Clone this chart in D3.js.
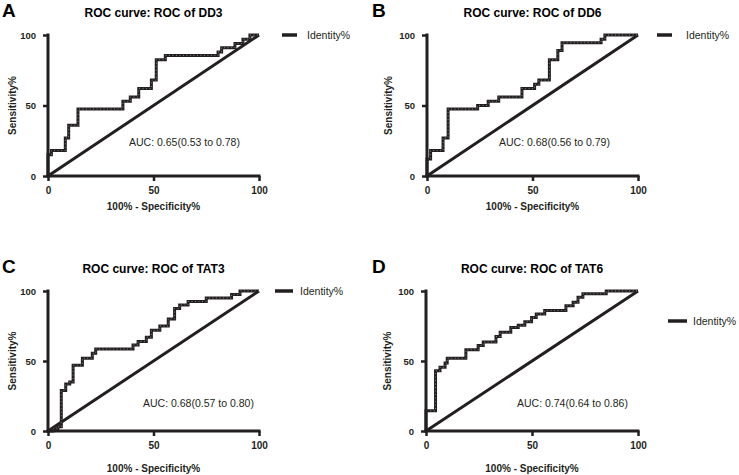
<!DOCTYPE html>
<html>
<head>
<meta charset="utf-8">
<script src="https://cdn.jsdelivr.net/npm/d3@7"></script>
<style>
  body { margin: 0; background: #fff; }
  svg { display: block; font-family: "Liberation Sans", Arial, sans-serif; }
</style>
</head>
<body>
<div id="chart"></div>
<script>
// ROC points (100% - specificity%, sensitivity%)
const dd3Fpr  = [0, 0, 1.6, 8.2, 9.8, 14.2, 35.5, 39, 43, 49, 51.3, 55.6, 80.6, 82.3, 88.6, 92.4, 95.7, 100];
const dd3Sens = [0, 15, 18, 27, 36, 47.5, 53, 56, 62, 68, 82.5, 85.5, 88, 91, 94, 97, 100, 100];

const dd6Fpr  = [0, 0, 1.7, 7.6, 10, 24, 29, 34, 45, 51, 53, 58, 62, 64, 82.5, 84.3, 100];
const dd6Sens = [0, 12, 18, 27, 47.5, 50, 53, 56, 62, 65, 68, 82.5, 89, 94.5, 97, 100, 100];

const tat3Fpr  = [0, 2.4, 4.7, 6.3, 8.4, 10.3, 11.9, 16.3, 21, 22.6, 40.3, 42.7, 46.6, 49, 53, 57, 60, 62.4, 66.4, 75, 87, 91, 100];
const tat3Sens = [0, 1.5, 3, 29, 33.5, 35, 47, 52, 55.5, 58.5, 61.5, 64, 67, 72, 75, 80, 87.5, 90, 92.5, 95, 97.5, 100, 100];

const tat6Fpr  = [0, 0, 4.5, 6.6, 9, 10, 18.8, 24.6, 27, 33, 35, 40, 43.5, 46.6, 49.8, 52, 56, 66, 69.4, 71.7, 74, 85, 100];
const tat6Sens = [0, 14.5, 43, 45.5, 48.5, 52, 58, 61, 63.5, 67.5, 70.5, 74, 75.5, 78, 81, 83.5, 86, 89.5, 92, 95.5, 98, 100, 100];

const panelLetters = ["A", "B", "C", "D"];
const panelTitles = ["ROC curve: ROC of DD3", "ROC curve: ROC of DD6", "ROC curve: ROC of TAT3", "ROC curve: ROC of TAT6"];
const aucLabels = ["AUC: 0.65(0.53 to 0.78)", "AUC: 0.68(0.56 to 0.79)", "AUC: 0.68(0.57 to 0.80)", "AUC: 0.74(0.64 to 0.86)"];
const tickValues = [0, 50, 100];
const legendLabel = "Identity%";

// layout of each panel (pixels)
const panels = [
  { fpr: dd3Fpr,  sens: dd3Sens,  left: 48,  top: 35,  right: 259, bottom: 176, letterX: 2,   aucX: 129, aucY: 146, legX: 282, legY: 35,  legW: 15, legTx: 307, xTitleDy: 34, yTitleX: 16 },
  { fpr: dd6Fpr,  sens: dd6Sens,  left: 427, top: 35,  right: 638, bottom: 176, letterX: 372, aucX: 499, aucY: 146, legX: 657, legY: 35,  legW: 15, legTx: 686, xTitleDy: 34, yTitleX: 392 },
  { fpr: tat3Fpr, sens: tat3Sens, left: 48,  top: 291, right: 259, bottom: 431, letterX: 2,   aucX: 143, aucY: 407, legX: 275, legY: 291, legW: 18, legTx: 300, xTitleDy: 41, yTitleX: 16 },
  { fpr: tat6Fpr, sens: tat6Sens, left: 426, top: 291, right: 638, bottom: 431, letterX: 372, aucX: 517, aucY: 407, legX: 668, legY: 321, legW: 19, legTx: 693, xTitleDy: 41, yTitleX: 391 }
];

const svg = d3.select("#chart").append("svg")
  .attr("width", 739)
  .attr("height", 475);

panels.forEach((p, i) => {
  const x = d3.scaleLinear().domain([0, 100]).range([p.left, p.right]);
  const y = d3.scaleLinear().domain([0, 100]).range([p.bottom, p.top]);
  const g = svg.append("g");

  // panel letter + title
  g.append("text")
    .attr("x", p.letterX)
    .attr("y", p.top - 18)
    .style("font-size", "19px")
    .style("font-weight", "bold")
    .text(panelLetters[i]);

  g.append("text")
    .attr("x", (p.left + p.right) / 2)
    .attr("y", p.top - 18)
    .attr("text-anchor", "middle")
    .style("font-size", "12px")
    .style("font-weight", "bold")
    .text(panelTitles[i]);

  // diagonal (identity)
  const line = d3.line().x(d => x(d[0])).y(d => y(d[1]));
  g.append("path")
    .datum([[0, 0], [100, 100]])
    .attr("d", line)
    .attr("fill", "none")
    .attr("stroke", "#231f20")
    .attr("stroke-width", 3);

  // ROC step curve
  const pts = p.fpr.map((v, k) => [v, p.sens[k]]);
  const stepLine = d3.line().x(d => x(d[0])).y(d => y(d[1])).curve(d3.curveStepAfter);
  g.append("path")
    .datum(pts)
    .attr("d", stepLine)
    .attr("fill", "none")
    .attr("stroke", "#231f20")
    .attr("stroke-width", 3);
  g.append("path")
    .datum(pts)
    .attr("d", stepLine)
    .attr("fill", "none")
    .attr("stroke", "#9a9a9a")
    .attr("stroke-width", 0.8)
    .attr("stroke-dasharray", "1,2.5");

  // axes
  const xAxis = g.append("g")
    .attr("transform", "translate(0," + p.bottom + ")")
    .call(d3.axisBottom(x).tickValues(tickValues).tickSize(5).tickPadding(6));
  const yAxis = g.append("g")
    .attr("transform", "translate(" + p.left + ",0)")
    .call(d3.axisLeft(y).tickValues(tickValues).tickSize(5).tickPadding(7));

  [xAxis, yAxis].forEach(ax => {
    ax.select(".domain").attr("stroke", "#231f20").attr("stroke-width", 3).attr("stroke-linecap", "square");
    ax.selectAll(".tick line").attr("stroke", "#231f20").attr("stroke-width", 2.5);
    ax.selectAll("text")
      .attr("fill", "#231f20")
      .style("font-family", "'Liberation Sans', Arial, sans-serif")
      .style("font-weight", "bold");
  });
  xAxis.selectAll("text").style("font-size", "10px");
  yAxis.selectAll("text").style("font-size", "9.5px");
  // plain domain lines, no outer tick caps
  xAxis.select(".domain").attr("d", "M" + p.left + ",0H" + p.right);
  yAxis.select(".domain").attr("d", "M0," + p.bottom + "V" + p.top);

  // axis titles
  g.append("text")
    .attr("x", (p.left + p.right) / 2)
    .attr("y", p.bottom + p.xTitleDy)
    .attr("text-anchor", "middle")
    .style("font-size", "10px")
    .style("font-weight", "bold")
    .attr("fill", "#231f20")
    .text("100% - Specificity%");

  g.append("text")
    .attr("transform", "translate(" + p.yTitleX + "," + (p.top + p.bottom) / 2 + ") rotate(-90)")
    .attr("text-anchor", "middle")
    .style("font-size", "10px")
    .style("font-weight", "bold")
    .attr("fill", "#231f20")
    .text("Sensitivity%");

  // AUC label
  g.append("text")
    .attr("x", p.aucX)
    .attr("y", p.aucY)
    .style("font-size", "10.5px")
    .attr("fill", "#231f20")
    .text(aucLabels[i]);

  // legend
  g.append("line")
    .attr("x1", p.legX).attr("x2", p.legX + p.legW)
    .attr("y1", p.legY).attr("y2", p.legY)
    .attr("stroke", "#231f20")
    .attr("stroke-width", 3.5);
  g.append("text")
    .attr("x", p.legTx)
    .attr("y", p.legY + 4)
    .style("font-size", "10.5px")
    .attr("fill", "#231f20")
    .text(legendLabel);
});
</script>
</body>
</html>
